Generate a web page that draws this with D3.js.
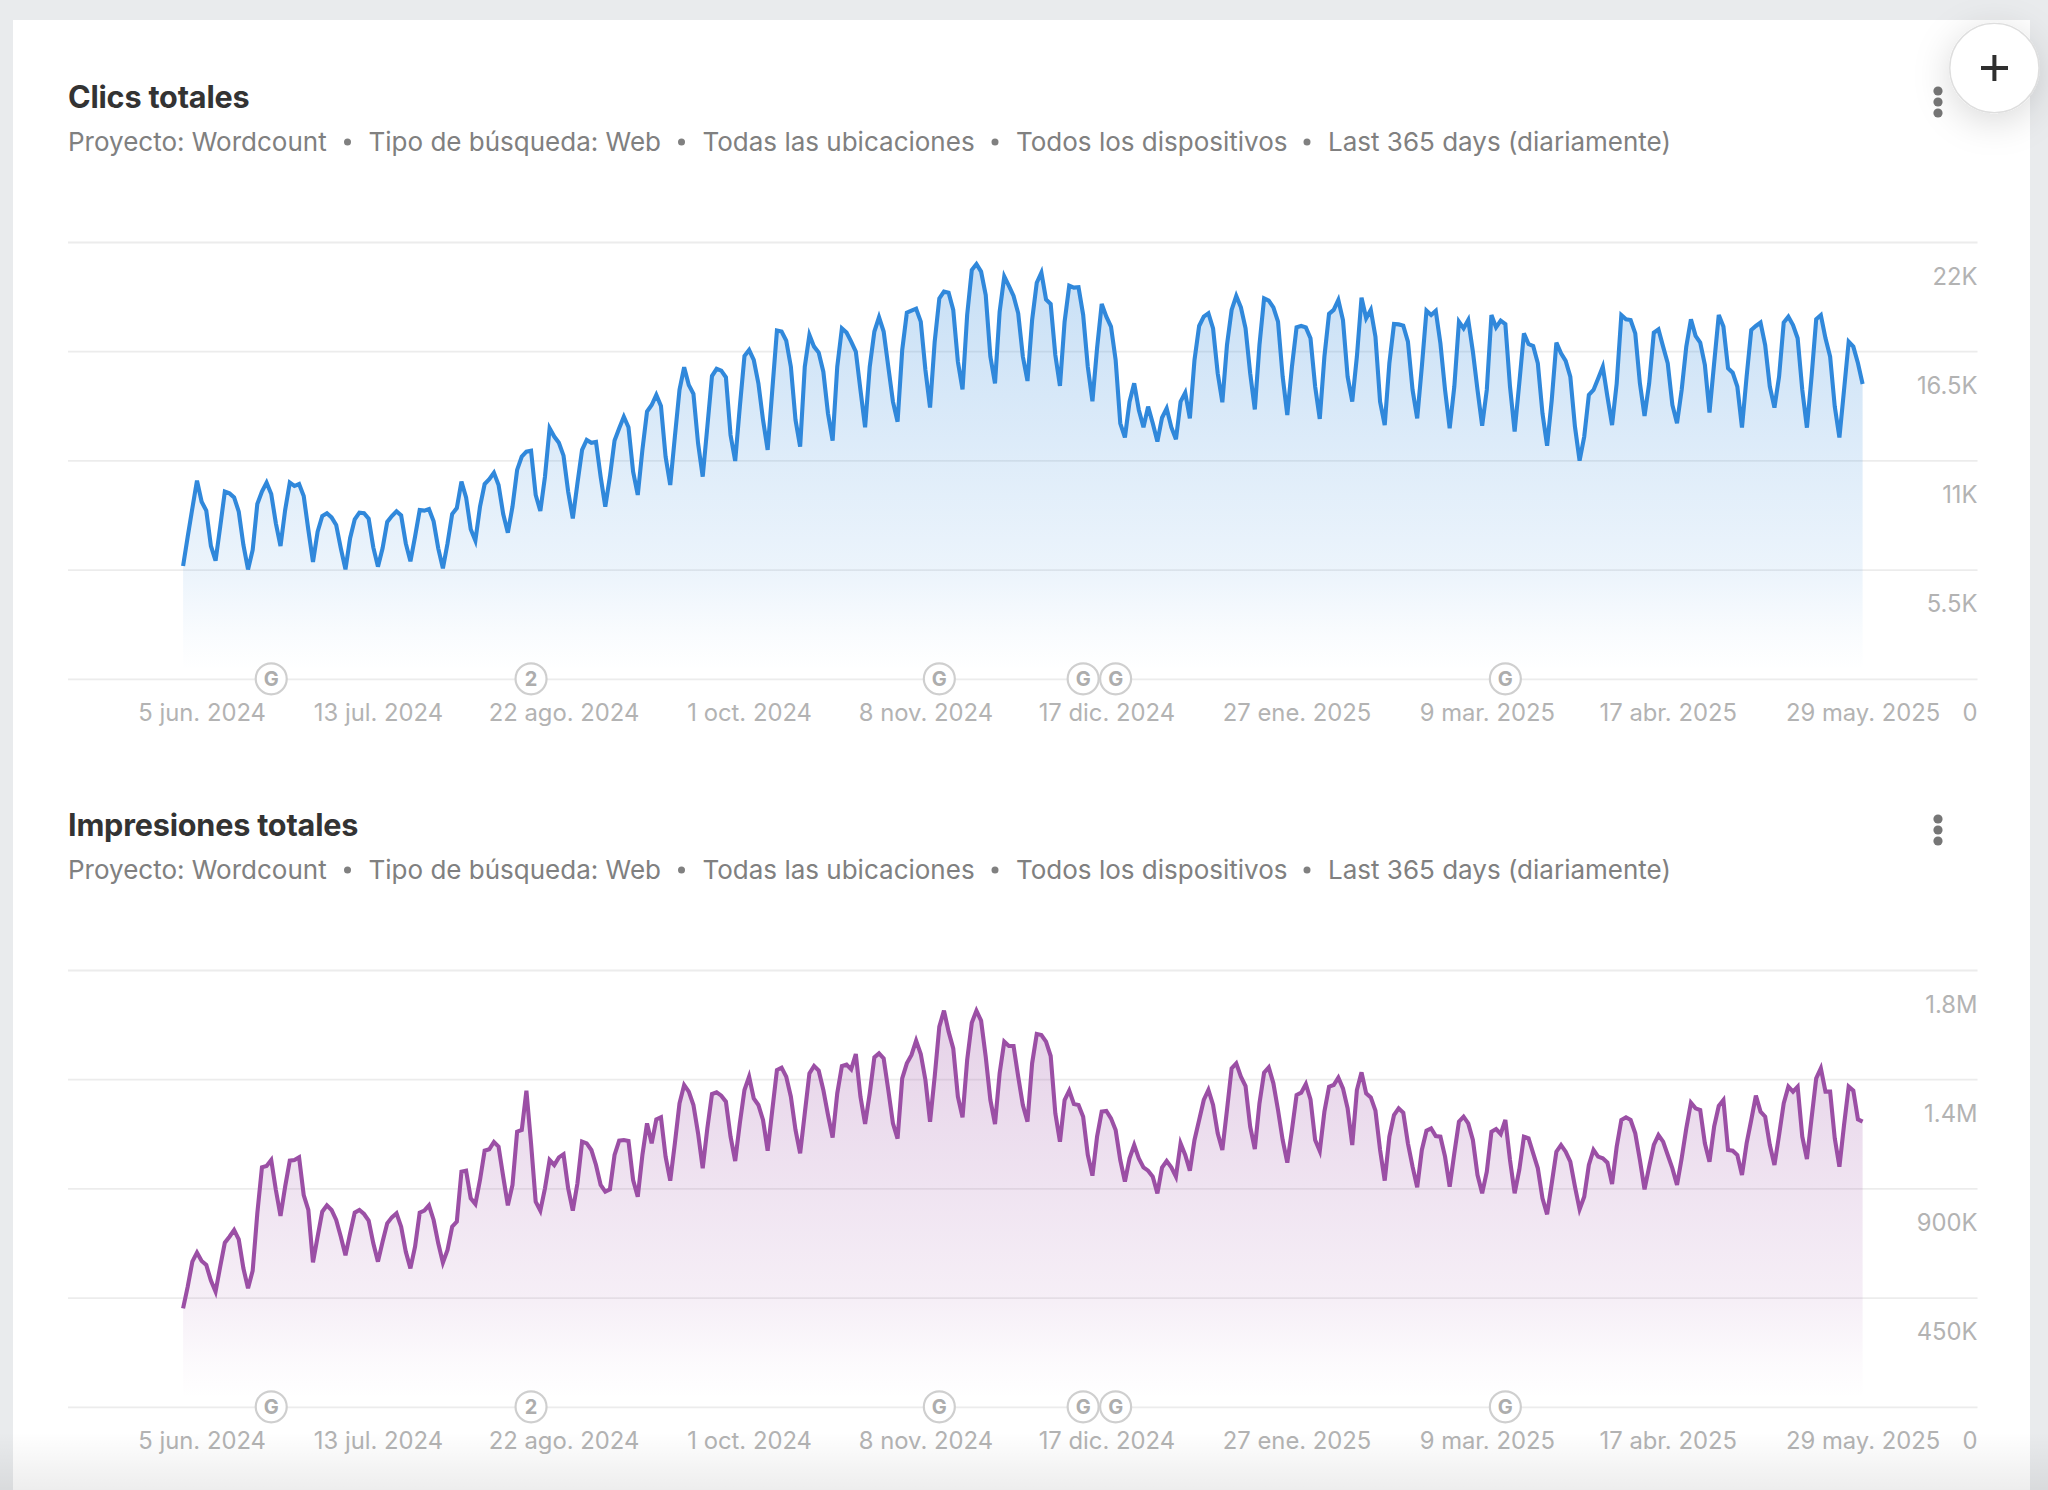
<!DOCTYPE html>
<html>
<head>
<meta charset="utf-8">
<script src="https://cdn.jsdelivr.net/npm/d3@7"></script>
<style>
body { margin: 0; background: #e9ebed; }
svg { display: block; }
text { font-family: Inter, "Noto Sans", sans-serif; }
</style>
</head>
<body>
<svg id="page" width="2048" height="1490"></svg>
<script>
// daily values, 1 jun. 2024 to 29 may. 2025
var clicks = [
  5680,7160,8590,9980,8920,8470,6690, 5950,7660,9430,9340,9140,8420,6740,
  5510,6490,8800,9430,9880,9310,7830, 6690,8500,9880,9710,9810,9210,7500,
  5880,7410,8200,8340,8130,7750,6570, 5510,7080,8030,8370,8340,8070,6620,
  5650,6570,7900,8200,8440,8230,6820, 5920,7160,8500,8470,8550,7930,6570,
  5560,6820,8300,8600,9930,9140,7530, 6960,8670,9810,10050,10380,9760,8300,
  7360,8670,10520,11190,11440,11490,9260, 8450,10180,12620,12200,11890,11240,9430,
  8080,9850,11530,12030,11890,11930,10180, 8670,10180,12000,12620,13200,12670,10430,
  9260,11530,13460,13790,14300,13740,11190, 9760,12200,14550,15690,14800,14350,11860,
  10180,12700,15250,15610,15520,15190,12280, 10970,13700,16260,16560,16060,14880,13040,
  11530,14550,17540,17490,17030,15720,13040, 11690,15720,17320,16730,16430,15470,13370,
  12000,15720,17650,17440,16980,16480,14550, 12670,15720,17490,18210,17490,15720,13960,
  12950,16560,18440,18540,18640,17990,15550, 13660,16980,19160,19500,19450,18580,15970,
  14580,18330,20590,20890,20510,19330,16230, 14880,18490,20260,19790,19280,18410,16230,
  15000,18070,19950,20460,19110,18880,16310, 14750,17990,19800,19700,19720,18330,15720,
  13980,16650,18880,18240,17740,16060,12870, 12160,13960,14880,13540,12670,13710,12870,
  11950,13150,13620,12670,12060,13960,14410, 13120,16060,17770,18240,18410,17650,15390,
  13930,16810,18580,19280,18710,17650,15390, 13570,16810,19160,19050,18710,17990,15220,
  13290,15720,17700,17770,17700,17150,14720, 13090,16230,18380,18580,19080,18070,15220,
  13960,16230,19200,18160,18580,17230,13960, 12780,15890,17870,17850,17790,16980,14550,
  13120,15720,18540,18320,18530,16900,14550, 12620,14720,17990,17650,18070,16480,14550,
  12750,14550,18320,17700,18040,17870,14720, 12450,14880,17400,16860,16760,15890,13370,
  11740,14040,16930,16390,16010,15220,12700, 10990,12200,14300,14550,15130,15720,14210,
  12780,14880,18320,18110,18070,17400,14880, 13240,14880,17430,17600,16730,15890,13790,
  12870,14550,16730,18110,17270,16930,15810, 13410,15890,18320,17740,15640,15420,14720,
  12650,15220,17570,17770,17940,16810,14720, 13660,15220,17940,18240,17820,17150,14550,
  12650,15220,18110,18320,17150,16230,13710, 12150,14550,16980,16730,15890,14850
];
var impressions = [
  405800,495100,598100,635200,600800,584400,519800, 474500,577500,676400,701100,728600,690100,570600,
  488200,561000,797000,986800,992300,1017000,893400, 786300,907200,1014300,1017000,1028000,872800,811000,
  595300,701100,804100,830200,811000,769800,701100, 624200,714900,800000,811000,794500,767000,673700,
  598100,680500,756100,780800,797300,742300,639300, 570600,659900,800000,808300,830200,769800,673700,
  594000,646200,742300,762900,968900,973100,859100, 835700,934600,1055500,1061000,1091200,1072000,948400,
  830200,914000,1133800,1140700,1302800,1085700,845400, 808300,900300,1017000,996400,1028000,1040400,900000,
  808300,920900,1092600,1085700,1058300,996500,914000, 886500,896200,1037700,1096700,1099500,1095300,934600,
  865900,1037700,1168100,1085700,1184600,1192900,1030800, 931900,1085700,1250600,1326100,1298600,1243700,1126900,
  982700,1147500,1289000,1295900,1282200,1257400,1113200, 1012900,1168100,1305500,1360500,1271200,1243700,1181900,
  1055500,1223100,1387900,1397500,1360500,1278000,1140700, 1044500,1209400,1374200,1404400,1385200,1305500,1202500,
  1109100,1291800,1404400,1409900,1390700,1453900,1278000, 1165400,1291800,1440100,1456600,1436000,1305500,1168100,
  1104900,1353600,1415400,1449700,1508800,1453900,1346700, 1175000,1360500,1566500,1632400,1545900,1477200,1278000,
  1192900,1429100,1583000,1632400,1591200,1442900,1264300, 1165400,1374200,1504700,1486800,1486800,1360500,1243700,
  1175000,1415400,1536300,1532200,1504700,1445600,1209400, 1092600,1264300,1302800,1247800,1243700,1195600,1037700,
  952500,1113200,1216200,1219000,1188800,1140700,1017000, 927800,1023900,1078900,1023900,986800,973100,948400,
  879700,985500,1012900,986800,948400,1085700,1037700, 973100,1099500,1181900,1264300,1305500,1243700,1126900,
  1058300,1223100,1394800,1415400,1360500,1322000,1154400, 1062400,1250600,1377000,1398900,1333000,1223100,1099500,
  1006000,1140700,1284900,1294500,1330200,1267000,1099500, 1054100,1216200,1319200,1326100,1356300,1312400,1230000,
  1078900,1305500,1378300,1291800,1275300,1220300,1058300, 931900,1113200,1202500,1230000,1212100,1085700,989600,
  904400,1058300,1137900,1147500,1115900,1113200,1030800, 907200,1044500,1175000,1195600,1168100,1099500,955200,
  879700,969000,1133800,1144800,1124200,1181900,1017000, 879700,975800,1113200,1106300,1044500,982700,859100,
  793200,920900,1051400,1078900,1051400,1010200,907200, 813800,865900,996500,1058300,1030800,1023900,1006100,
  918100,1072000,1181900,1192900,1181900,1126900,1017000, 896200,989600,1078900,1120100,1092600,1037700,982700,
  914000,1023900,1147500,1253300,1230000,1223100,1085700, 1010200,1154400,1239600,1264300,1058300,1055500,1037700,
  955200,1085700,1181900,1282200,1216200,1195600,1078900, 996500,1120100,1250600,1319200,1298600,1319200,1113200,
  1021100,1188800,1353600,1394800,1298600,1298600,1106300, 989600,1161300,1319200,1302800,1184600,1175000
];

var titles = ["Clics totales", "Impresiones totales"];
var subtitleParts = ["Proyecto: Wordcount", "Tipo de búsqueda: Web", "Todas las ubicaciones", "Todos los dispositivos", "Last 365 days (diariamente)"];

var dateTicks = ["2024-06-05", "2024-07-13", "2024-08-22", "2024-10-01", "2024-11-08", "2024-12-17", "2025-01-27", "2025-03-09", "2025-04-17", "2025-05-29"];
var dateLabels = ["5 jun. 2024", "13 jul. 2024", "22 ago. 2024", "1 oct. 2024", "8 nov. 2024", "17 dic. 2024", "27 ene. 2025", "9 mar. 2025", "17 abr. 2025", "29 may. 2025"];

var clickTicks = [0, 5500, 11000, 16500, 22000];
var clickLabels = ["0", "5.5K", "11K", "16.5K", "22K"];
var impressionTicks = [0, 450000, 900000, 1350000, 1800000];
var impressionLabels = ["0", "450K", "900K", "1.4M", "1.8M"];

// google update markers
var updateDates = ["2024-06-20", "2024-08-15", "2024-11-11", "2024-12-12", "2024-12-19", "2025-03-13"];
var updateLabels = ["G", "2", "G", "G", "G", "G"];

var parseDay = d3.timeParse("%Y-%m-%d");
var days = d3.timeDay.range(parseDay("2024-06-01"), parseDay("2025-05-30"));

var svg = d3.select("#page");
var defs = svg.append("defs");

var x = d3.scaleTime()
    .domain([parseDay("2024-05-30"), parseDay("2025-05-29")])
    .range([173.8, 1862.6]);

svg.append("rect").attr("x", 13).attr("y", 20).attr("width", 2017).attr("height", 1470).attr("fill", "#fff");

function drawPanel(top, title, values, ticks, labels, color, id) {
    var baseline = top + 436.8;
    var y = d3.scaleLinear().domain([0, d3.max(ticks)]).range([baseline, top]);
    var g = svg.append("g");

    g.append("text").attr("x", 68).attr("y", top - 134.5).attr("font-size", 30.6)
        .attr("font-weight", 700).attr("letter-spacing", -0.2).attr("fill", "#333").text(title);

    // subtitle pieces sit at fixed spots, bullets between them
    var partX = [68, 368.5, 702.5, 1016, 1328];
    subtitleParts.forEach(function (part, i) {
        g.append("text").attr("x", partX[i]).attr("y", top - 91.5).attr("font-size", 26)
            .attr("fill", "#808080").text(part);
        if (i > 0) {
            g.append("circle").attr("cx", partX[i] - 21).attr("cy", top - 100).attr("r", 3.5).attr("fill", "#808080");
        }
    });

    [0, 1, 2].forEach(function (i) {
        g.append("circle").attr("cx", 1938).attr("cy", top - 151 + i * 11).attr("r", 4.6).attr("fill", "#767676");
    });

    // grid + value labels
    var yAxis = d3.axisLeft(y).tickValues(ticks).tickSize(1909.5)
        .tickFormat(function (d, i) { return labels[i]; });
    var yG = g.append("g").attr("transform", "translate(1977.5,0)").call(yAxis);
    yG.select(".domain").remove();
    yG.selectAll("line").attr("stroke", "#ececec").attr("stroke-width", 1.8);
    yG.selectAll("text").attr("x", 0).attr("dy", 0).attr("y", 42.2)
        .attr("text-anchor", "end").attr("font-size", 23.8).attr("font-family", "Inter").attr("fill", "#b3b3b3");

    var grad = defs.append("linearGradient").attr("id", id)
        .attr("gradientUnits", "userSpaceOnUse")
        .attr("x1", 0).attr("x2", 0).attr("y1", top + 20).attr("y2", baseline);
    grad.append("stop").attr("offset", 0).attr("stop-color", color).attr("stop-opacity", 0.27);
    grad.append("stop").attr("offset", 0.5).attr("stop-color", color).attr("stop-opacity", 0.15);
    grad.append("stop").attr("offset", 0.75).attr("stop-color", color).attr("stop-opacity", 0.09);
    grad.append("stop").attr("offset", 0.9).attr("stop-color", color).attr("stop-opacity", 0.025);
    grad.append("stop").attr("offset", 0.98).attr("stop-color", color).attr("stop-opacity", 0);

    var area = d3.area()
        .x(function (d, i) { return x(days[i]); })
        .y0(baseline)
        .y1(function (d) { return y(d); });
    var line = d3.line()
        .x(function (d, i) { return x(days[i]); })
        .y(function (d) { return y(d); });

    g.append("path").datum(values).attr("d", area).attr("fill", "url(#" + id + ")");
    g.append("path").datum(values).attr("d", line).attr("fill", "none")
        .attr("stroke", color).attr("stroke-width", 4.1);

    // date labels
    var xAxis = d3.axisBottom(x).tickValues(dateTicks.map(parseDay)).tickSize(0)
        .tickFormat(function (d, i) { return dateLabels[i]; });
    var xG = g.append("g").attr("transform", "translate(0," + baseline + ")").call(xAxis);
    xG.select(".domain").remove();
    xG.selectAll("text").attr("dy", 0).attr("y", 42.2).attr("font-size", 23.8)
        .attr("font-family", "Inter").attr("fill", "#b3b3b3");

    var marks = g.selectAll(".update").data(updateDates).enter().append("g")
        .attr("class", "update")
        .attr("transform", function (d) { return "translate(" + x(parseDay(d)) + "," + baseline + ")"; });
    marks.append("circle").attr("r", 15.5).attr("fill", "#fff").attr("stroke", "#cfcfcf").attr("stroke-width", 2.2);
    marks.append("text").attr("y", 7).attr("text-anchor", "middle").attr("font-size", 20)
        .attr("font-weight", 700).attr("fill", "#adadad")
        .text(function (d, i) { return updateLabels[i]; });
}

drawPanel(242, titles[0], clicks, clickTicks, clickLabels, "#3088db", "fillClicks");
drawPanel(970, titles[1], impressions, impressionTicks, impressionLabels, "#9b4fa5", "fillImpressions");

// fade at the bottom of the screen
var fade = defs.append("linearGradient").attr("id", "pageFade").attr("x1", 0).attr("x2", 0).attr("y1", 0).attr("y2", 1);
fade.append("stop").attr("offset", 0).attr("stop-color", "#000").attr("stop-opacity", 0);
fade.append("stop").attr("offset", 1).attr("stop-color", "#000").attr("stop-opacity", 0.07);
svg.append("rect").attr("x", 0).attr("y", 1432).attr("width", 2048).attr("height", 58).attr("fill", "url(#pageFade)");

// floating add button
var shadow = defs.append("filter").attr("id", "btnShadow")
    .attr("x", "-80%").attr("y", "-80%").attr("width", "260%").attr("height", "260%");
shadow.append("feDropShadow").attr("dx", 0).attr("dy", 8).attr("stdDeviation", 18)
    .attr("flood-color", "#000").attr("flood-opacity", 0.15);
svg.append("circle").attr("cx", 1994.4).attr("cy", 68).attr("r", 44.6).attr("fill", "#fff")
    .attr("stroke", "#dedede").attr("stroke-width", 1.4).attr("filter", "url(#btnShadow)");
svg.append("path").attr("d", "M1981,68H2008M1994.4,55V81").attr("stroke", "#2f2f2f").attr("stroke-width", 4).attr("fill", "none");
</script>
</body>
</html>
